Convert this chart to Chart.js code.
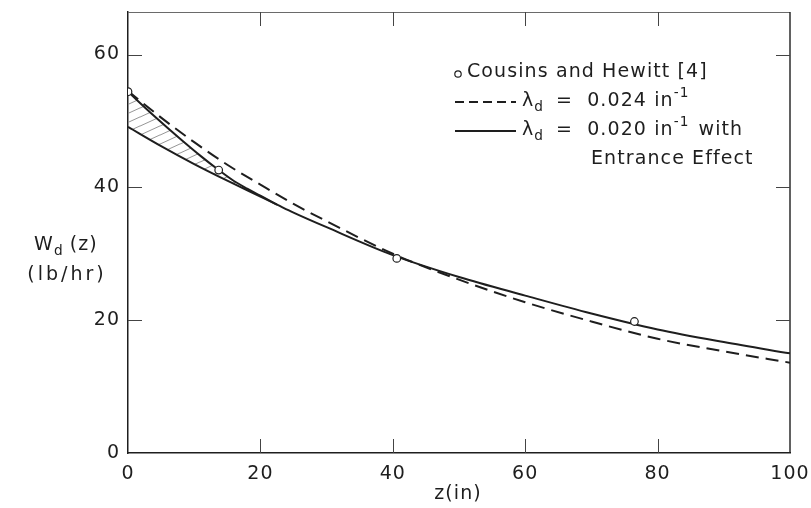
<!DOCTYPE html>
<html>
<head>
<meta charset="utf-8">
<script src="https://cdn.jsdelivr.net/npm/chart.js@4/dist/chart.umd.min.js"></script>
<style>
  html, body { margin: 0; padding: 0; background: #fff; }
  #wrap { width: 811px; height: 508px; position: relative; }
</style>
</head>
<body>
<div id="wrap"><canvas id="c" width="811" height="508"></canvas></div>
<script>
// Measured flow rates (Cousins and Hewitt [4])
const zMeasured = [0, 13.7, 40.6, 76.5];
const wMeasured = [54.4, 42.6, 29.3, 19.8];

// Prediction with lambda_d = 0.024 in^-1 (dashed)
const zDashed = [0, 5, 10, 15, 20, 25, 30, 40, 50, 60, 70, 80, 90, 100];
const wDashed = [54.5, 50.5, 46.8, 43.4, 40.4, 37.5, 34.9, 30.0, 26.1, 22.7, 19.8, 17.2, 15.3, 13.6];

// Prediction with lambda_d = 0.020 in^-1 (solid)
const zSolid = [0, 5, 10, 15, 20, 22.5, 25, 30, 40, 50, 60, 70, 80, 90, 100];
const wSolid = [49.1, 46.2, 43.5, 41.0, 38.6, 37.4, 36.2, 34.0, 29.8, 26.5, 23.7, 21.0, 18.6, 16.7, 15.0];

// Entrance-effect branch near the inlet (solid, hatched down to the main curve)
const zEntrance = [0, 4, 8, 11, 13.7, 16, 18, 20, 22.5];
const wEntrance = [54.4, 50.7, 47.2, 44.7, 42.6, 40.95, 39.8, 38.75, 37.4];

const xTicks = [0, 20, 40, 60, 80, 100];
const yTicks = [0, 20, 40, 60];
const xMinorMarks = [20, 40, 60, 80];
const yMinorMarks = [20, 40, 60];

const INK = '#1e1e1e';
const FONT = '"DejaVu Sans", "Liberation Sans", sans-serif';

const pts = (xs, ys) => xs.map((x, i) => ({ x: x, y: ys[i] }));

// thin diagonal hatching used for the entrance-effect region
function hatchPattern() {
  const t = document.createElement('canvas');
  t.width = 20; t.height = 9;
  const g = t.getContext('2d');
  g.strokeStyle = '#8a8a8a';
  g.lineWidth = 0.9;
  for (const off of [-9, 0, 9]) {
    g.beginPath();
    g.moveTo(-2, 9 + off + 1);
    g.lineTo(22, off - 1);
    g.stroke();
  }
  return g.createPattern(t, 'repeat');
}

// draws text runs with subscripts / superscripts
function richText(ctx, parts, x, y, size) {
  let cx = x;
  for (const p of parts) {
    const s = p.sub || p.sup ? size * 0.72 : size;
    ctx.font = s + 'px ' + FONT;
    const dy = p.sub ? size * 0.32 : (p.sup ? -size * 0.42 : 0);
    ctx.fillText(p.t, cx, y + dy);
    cx += ctx.measureText(p.t).width + (p.gap || 0);
  }
  return cx;
}

// keep the plot box exactly where the scales are fitted
function noOverflow(s) {
  s.paddingTop = 0; s.paddingBottom = 0; s.paddingLeft = 0; s.paddingRight = 0;
}

const framePlugin = {
  id: 'frame',
  beforeDraw(chart) {
    chart.ctx.letterSpacing = '1px';
  },
  afterDatasetsDraw(chart) {
    const { ctx, chartArea: a, scales: { x, y } } = chart;
    ctx.save();
    ctx.lineCap = 'butt';
    // top and right edges of the box
    ctx.strokeStyle = '#6a6a6a';
    ctx.lineWidth = 1;
    ctx.beginPath(); ctx.moveTo(a.left, a.top + 0.5); ctx.lineTo(a.right, a.top + 0.5); ctx.stroke();
    ctx.strokeStyle = INK;
    ctx.lineWidth = 1.4;
    ctx.beginPath(); ctx.moveTo(a.right, a.top); ctx.lineTo(a.right, a.bottom); ctx.stroke();
    // inward tick marks on all four sides
    const L = 14;
    ctx.lineWidth = 1;
    ctx.strokeStyle = '#444';
    for (const v of xMinorMarks) {
      const px = Math.round(x.getPixelForValue(v)) + 0.5;
      ctx.beginPath(); ctx.moveTo(px, a.bottom); ctx.lineTo(px, a.bottom - L); ctx.stroke();
      ctx.beginPath(); ctx.moveTo(px, a.top); ctx.lineTo(px, a.top + L); ctx.stroke();
    }
    for (const v of yMinorMarks) {
      const py = Math.round(y.getPixelForValue(v)) + 0.5;
      ctx.beginPath(); ctx.moveTo(a.left, py); ctx.lineTo(a.left + L, py); ctx.stroke();
      ctx.beginPath(); ctx.moveTo(a.right, py); ctx.lineTo(a.right - L, py); ctx.stroke();
    }
    ctx.restore();
  },
  afterDraw(chart) {
    const { ctx, chartArea: a } = chart;
    ctx.save();
    ctx.fillStyle = INK;
    ctx.strokeStyle = INK;
    ctx.textBaseline = 'middle';
    ctx.textAlign = 'left';
    ctx.letterSpacing = '1.1px';
    const S = 19;

    // legend
    ctx.lineWidth = 1.2;
    ctx.beginPath(); ctx.arc(458, 74, 3.2, 0, Math.PI * 2); ctx.fillStyle = '#fff'; ctx.fill(); ctx.stroke();
    ctx.fillStyle = INK;
    richText(ctx, [{ t: 'Cousins and Hewitt [4]' }], 467, 72, S);

    ctx.lineWidth = 2;
    ctx.setLineDash([9, 5]);
    ctx.beginPath(); ctx.moveTo(455, 102); ctx.lineTo(516, 102); ctx.stroke();
    ctx.setLineDash([]);
    richText(ctx, [{ t: 'λ' }, { t: 'd', sub: true, gap: 12 }, { t: '=', gap: 14 }, { t: '0.024 in', gap: 0 }, { t: '-1', sup: true }], 522, 101, S);

    ctx.beginPath(); ctx.moveTo(455, 131); ctx.lineTo(516, 131); ctx.stroke();
    richText(ctx, [{ t: 'λ' }, { t: 'd', sub: true, gap: 12 }, { t: '=', gap: 14 }, { t: '0.020 in', gap: 0 }, { t: '-1', sup: true, gap: 9 }, { t: 'with' }], 522, 130, S);
    richText(ctx, [{ t: 'Entrance Effect' }], 591, 159, S);

    // axis titles
    ctx.font = S + 'px ' + FONT;
    const wW = ctx.measureText('W').width;
    const wz = ctx.measureText('(z)').width;
    ctx.font = (S * 0.72) + 'px ' + FONT;
    const wd = ctx.measureText('d').width;
    const w = wW + wd + 6 + wz;
    richText(ctx, [{ t: 'W' }, { t: 'd', sub: true, gap: 6 }, { t: '(z)' }], 66 - w / 2, 245, S);
    ctx.textAlign = 'center';
    ctx.font = S + 'px ' + FONT;
    ctx.letterSpacing = '3px';
    ctx.fillText('(lb/hr)', 67, 275);
    ctx.letterSpacing = '1.1px';
    ctx.fillText('z(in)', (a.left + a.right) / 2 - 1, 494);
    ctx.restore();
  }
};

const chart = new Chart(document.getElementById('c'), {
  type: 'line',
  data: {
    datasets: [
      {
        label: 'Cousins and Hewitt [4]',
        data: pts(zMeasured, wMeasured),
        showLine: false,
        pointStyle: 'circle',
        pointRadius: 3.8,
        pointBorderWidth: 1.2,
        pointBorderColor: INK,
        pointBackgroundColor: '#fff',
        order: 0
      },
      {
        label: 'λd = 0.024',
        data: pts(zDashed, wDashed),
        borderColor: INK,
        borderWidth: 2,
        borderDash: [13, 7],
        pointRadius: 0,
        cubicInterpolationMode: 'monotone',
        fill: false,
        order: 2
      },
      {
        label: 'λd = 0.020',
        data: pts(zSolid, wSolid),
        borderColor: INK,
        borderWidth: 2,
        pointRadius: 0,
        cubicInterpolationMode: 'monotone',
        fill: false,
        order: 1
      },
      {
        label: 'entrance effect',
        data: pts(zEntrance, wEntrance),
        borderColor: INK,
        borderWidth: 2,
        pointRadius: 0,
        cubicInterpolationMode: 'monotone',
        fill: { target: 2 },
        backgroundColor: hatchPattern(),
        order: 1
      }
    ]
  },
  options: {
    responsive: false,
    animation: false,
    devicePixelRatio: 1,
    layout: { padding: { top: 12, right: 21, left: 0, bottom: 0 } },
    plugins: { legend: { display: false }, tooltip: { enabled: false } },
    scales: {
      x: {
        type: 'linear',
        min: 0, max: 100,
        afterBuildTicks: s => { s.ticks = xTicks.map(v => ({ value: v })); },
        afterFit: s => { s.height = 55; noOverflow(s); },
        grid: { display: false, drawTicks: false },
        border: { display: true, color: INK, width: 1.5 },
        ticks: { color: INK, padding: 10, maxRotation: 0, font: { family: FONT, size: 19 } }
      },
      y: {
        type: 'linear',
        min: 0, max: 66.4,
        afterBuildTicks: s => { s.ticks = yTicks.map(v => ({ value: v })); },
        afterFit: s => { s.width = 128; noOverflow(s); },
        grid: { display: false, drawTicks: false },
        border: { display: true, color: INK, width: 1.5 },
        ticks: { color: INK, padding: 8, font: { family: FONT, size: 19 } }
      }
    }
  },
  plugins: [framePlugin]
});
</script>
</body>
</html>
